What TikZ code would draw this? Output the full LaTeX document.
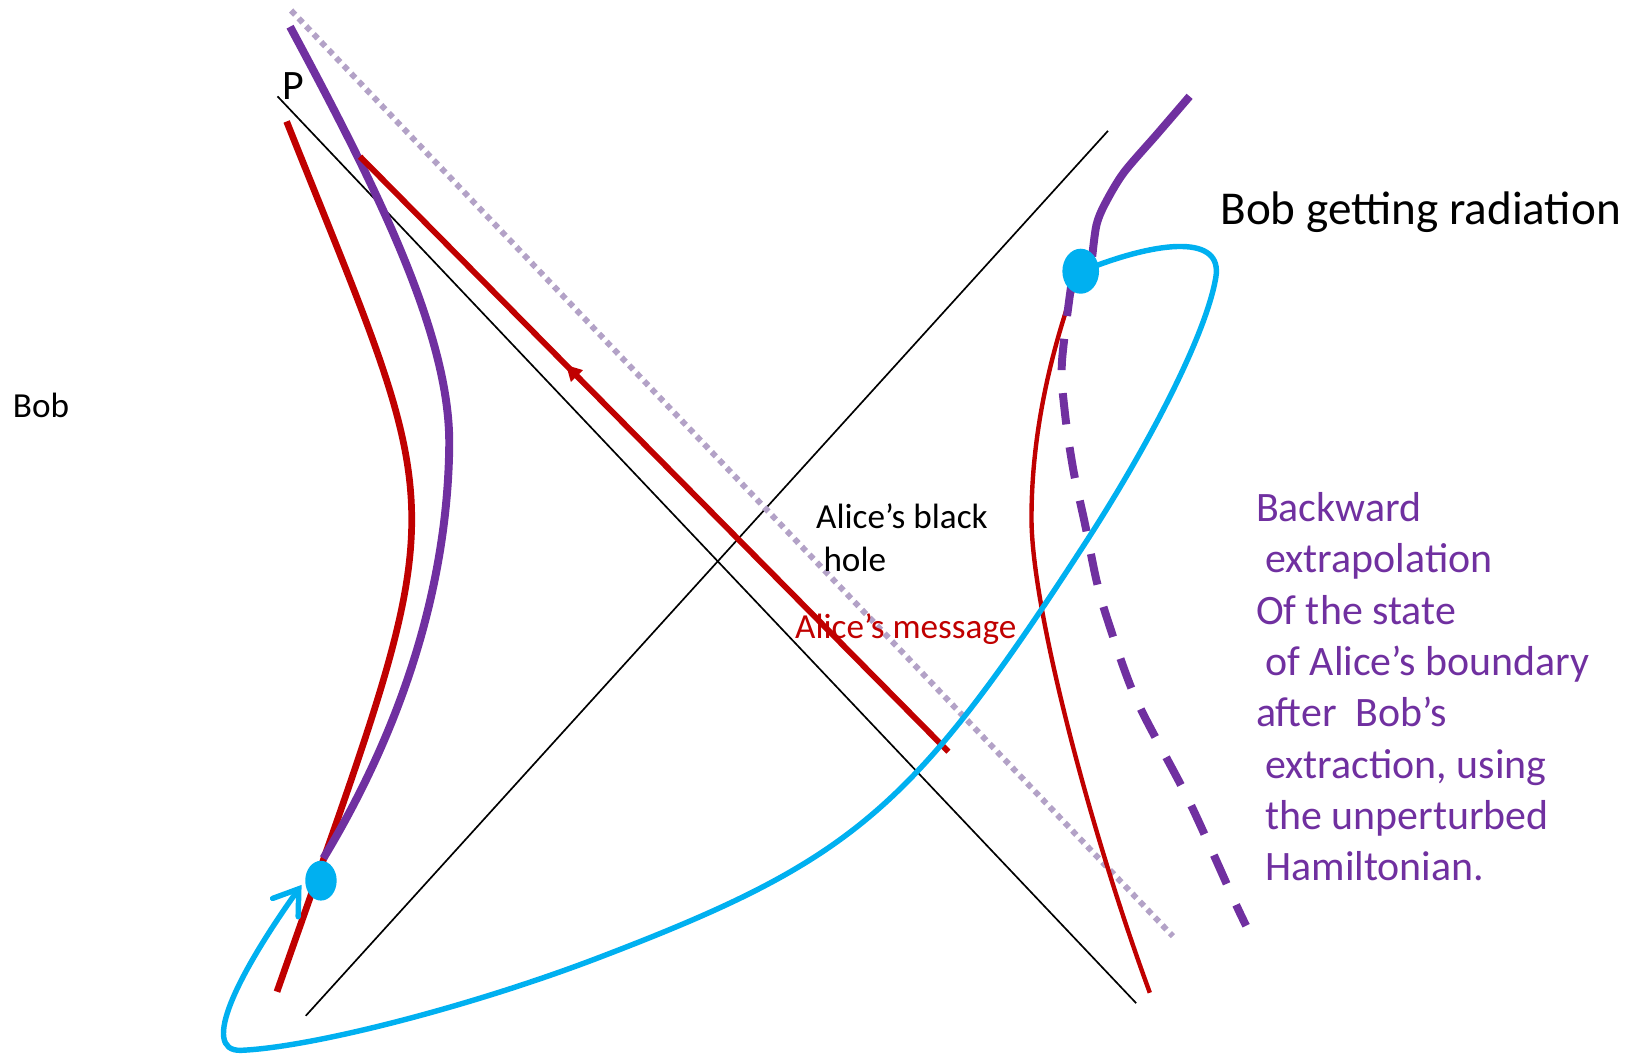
\documentclass[tikz,border=0pt]{standalone}
\usepackage{fontspec}
\setmainfont{Carlito}
\usetikzlibrary{arrows.meta,decorations.markings,shapes.geometric}
\definecolor{cpurple}{HTML}{7030A0}
\definecolor{cred}{HTML}{C00000}
\definecolor{cblue}{HTML}{00B0F0}
\definecolor{clav}{HTML}{B3A2C7}
\tikzset{
  axisline/.style={black, line width=0.8pt},
  lavdot/.style={clav, line width=2.8pt, dash pattern=on 2.8pt off 2.4pt},
  redthick/.style={cred, line width=3.2pt},
  redthin/.style={cred, line width=2.1pt},
  redmsg/.style={cred, line width=2.8pt},
  purpleline/.style={cpurple, line width=3.8pt},
  purpledash/.style={cpurple, line width=3.8pt, dash pattern=on 15pt off 11pt},
  blueline/.style={cblue, line width=2.6pt, line cap=round},
  bluedot/.style={ellipse, fill=cblue, draw=none, inner sep=0pt},
  txt/.style={anchor=base west, inner sep=0pt},
  ptext/.style={txt, text=cpurple, font=\fontsize{20}{24.5}\selectfont},
}
\begin{document}
\begin{tikzpicture}[x=0.5pt,y=-0.5pt]
\useasboundingbox (0,0) rectangle (1568,1006);

% light-cone lines
\draw[axisline] (265,92) -- (1085,958);
\draw[axisline] (292,970) -- (1058,125);

% dotted horizon line
\draw[lavdot] (278,10) -- (1120,894);

% left red boundary curve
\draw[redthick] (273.7,116) .. controls (434,518) and (435,460) .. (264.5,947);

% left purple curve
\draw[purpleline] (277,25.5) .. controls (360,180) and (430,320) .. (429,425)
                  .. controls (428,520) and (405,660) .. (308.8,819.6);

% Alice's message
\draw[redmsg, postaction={decorate}, decoration={markings, mark=at position 0.35 with {\arrowreversed{Triangle[length=7.5pt,width=7.5pt]}}}] (343.8,149.6) -- (905.6,717.8);

% right red curve
\draw[redthin] (1030,262) .. controls (1005,330) and (985,410) .. (985,495)
               .. controls (985,580) and (1040,790) .. (1098,948);

% right purple solid
\draw[purpleline] plot[smooth] coordinates {(1136,92) (1105,128) (1073,165) (1055,195) (1047,215) (1043,245)};

% purple dashed backward extrapolation
\draw[purpledash] plot[smooth] coordinates {(1023,272) (1014,347) (1017,395) (1025,449) (1036,500) (1047,554) (1058,593) (1085,668) (1135,764) (1179,861) (1190,884)};

% blue curve
\draw[blueline, -{Straight Barb[length=11pt,width=15pt,line cap=round]}]
  (1033,259) .. controls (1110,228) and (1168,225) .. (1161,265)
  .. controls (1152,318) and (1100,420) .. (1038,516)
  .. controls (871.2,773.6) and (815.4,821.3) .. (573,914)
  .. controls (453,960) and (300,1000) .. (230,1003)
  .. controls (190,1004) and (228,929) .. (288,845);

% dots
\node[bluedot, minimum width=15pt, minimum height=19pt] (dotL) at (306.5,841) {};
\node[bluedot, minimum width=17.5pt, minimum height=21.5pt] (dotR) at (1032,259) {};

% texts
\node[txt, font=\fontsize{22.5}{27}\selectfont] (bobrad) at (1165,214) {Bob getting radiation};
\node[txt, font=\fontsize{16.8}{20.5}\selectfont] (bob) at (12,399) {Bob};
\node[txt, font=\fontsize{20}{24}\selectfont] (P) at (269,95) {P};
\node[txt, font=\fontsize{16.8}{20.5}\selectfont] (bh1) at (779,505) {Alice’s black};
\node[txt, font=\fontsize{16.8}{20.5}\selectfont] (bh2) at (786,546) {hole};
\node[txt, text=cred, font=\fontsize{16.8}{20.5}\selectfont] (msg) at (759,610) {Alice’s message};

\node[ptext] (l1) at (1199,498) {Backward};
\node[ptext] (l2) at (1208,547) {extrapolation};
\node[ptext] (l3) at (1199,596) {Of the state};
\node[ptext] (l4) at (1208,645) {of Alice’s boundary};
\node[ptext] (l5) at (1199,694) {after\ \ Bob’s};
\node[ptext] (l6) at (1208,743) {extraction, using};
\node[ptext] (l7) at (1208,792) {the unperturbed};
\node[ptext] (l8) at (1208,841) {Hamiltonian.};
\end{tikzpicture}
\end{document}
